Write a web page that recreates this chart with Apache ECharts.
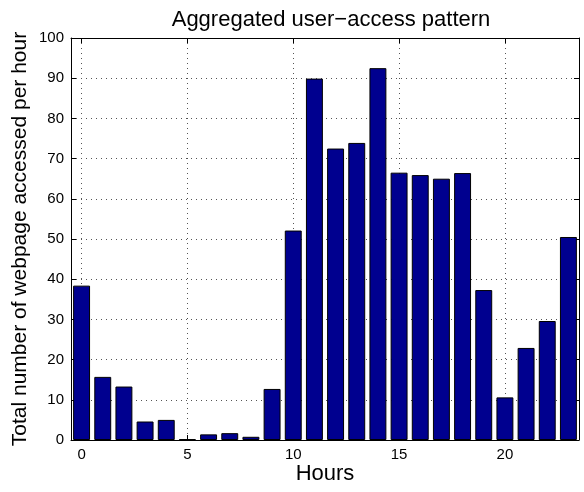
<!DOCTYPE html>
<html>
<head>
<meta charset="utf-8">
<script src="https://cdn.jsdelivr.net/npm/echarts@6/dist/echarts.min.js"></script>
<style>
  html, body { margin: 0; padding: 0; background: #fff; }
  #chart { width: 584px; height: 492px; }
</style>
</head>
<body>
<div id="chart"></div>
<script>
// Hourly access counts (hour of day -> pages accessed)
const hours = [0, 1, 2, 3, 4, 5, 6, 7, 8, 9, 10, 11, 12, 13, 14, 15, 16, 17, 18, 19, 20, 21, 22, 23];
const pageCounts = [38.4, 15.7, 13.3, 4.6, 5.0, 0.2, 1.4, 1.7, 0.8, 12.7, 52.1, 89.9,
                    72.5, 73.9, 92.5, 66.5, 65.9, 65.0, 66.4, 37.3, 10.6, 22.9, 29.6, 50.5];
const hourTicks = [0, 5, 10, 15, 20];
const countMin = 0, countMax = 100, countStep = 10;

const titleText = 'Aggregated user\u2212access pattern';
const xName = 'Hours';
const yName = 'Total number of webpage accessed per hour';

const FONT = '"Liberation Sans", Arial, Helvetica, sans-serif';
const gridLine = { show: true, lineStyle: { color: '#555', type: [1, 4], width: 1 } };
const frameLine = { show: true, onZero: false, lineStyle: { color: '#000', width: 1 } };

const chart = echarts.init(document.getElementById('chart'), null, { renderer: 'canvas' });

chart.setOption({
  animation: false,
  backgroundColor: '#fff',
  title: {
    text: titleText,
    left: 326, top: 4, textAlign: 'center',
    textStyle: { fontFamily: FONT, fontSize: 22, fontWeight: 'normal', color: '#000' }
  },
  grid: { left: 71, right: 5, top: 38, bottom: 52, containLabel: false, outerBoundsMode: 'none' },
  xAxis: [{
    type: 'value', min: -0.5, max: 23.5,
    position: 'bottom',
    name: xName, nameLocation: 'middle', nameGap: 23, nameMoveOverlap: false,
    nameTextStyle: { fontFamily: FONT, fontSize: 22, color: '#000' },
    axisLine: frameLine,
    axisTick: { show: true, inside: true, length: 5, customValues: hourTicks, lineStyle: { color: '#000' } },
    axisLabel: { customValues: hourTicks, fontFamily: FONT, fontSize: 15, color: '#000', margin: 7 },
    splitLine: gridLine
  }, {
    type: 'value', min: -0.5, max: 23.5,
    position: 'top',
    axisLine: frameLine,
    axisTick: { show: true, inside: true, length: 5, customValues: hourTicks, lineStyle: { color: '#000' } },
    axisLabel: { show: false },
    splitLine: { show: false }
  }],
  yAxis: [{
    type: 'value', min: countMin, max: countMax, interval: countStep,
    position: 'left',
    name: yName, nameLocation: 'middle', nameGap: 40, nameRotate: 90, nameMoveOverlap: false,
    nameTextStyle: { fontFamily: FONT, fontSize: 21, color: '#000' },
    axisLine: frameLine,
    axisTick: { show: true, inside: true, length: 5, lineStyle: { color: '#000' } },
    axisLabel: { fontFamily: FONT, fontSize: 15, color: '#000', margin: 7 },
    splitLine: gridLine
  }, {
    type: 'value', min: countMin, max: countMax, interval: countStep,
    position: 'right',
    axisLine: frameLine,
    axisTick: { show: true, inside: true, length: 5, lineStyle: { color: '#000' } },
    axisLabel: { show: false },
    splitLine: { show: false }
  }],
  series: [{
    type: 'bar',
    xAxisIndex: 0, yAxisIndex: 0,
    data: hours.map((h, i) => [h, pageCounts[i]]),
    barWidth: '80%',
    itemStyle: { color: '#00008f', borderColor: '#000', borderWidth: 1 },
    z: 3
  }]
});
</script>
</body>
</html>
